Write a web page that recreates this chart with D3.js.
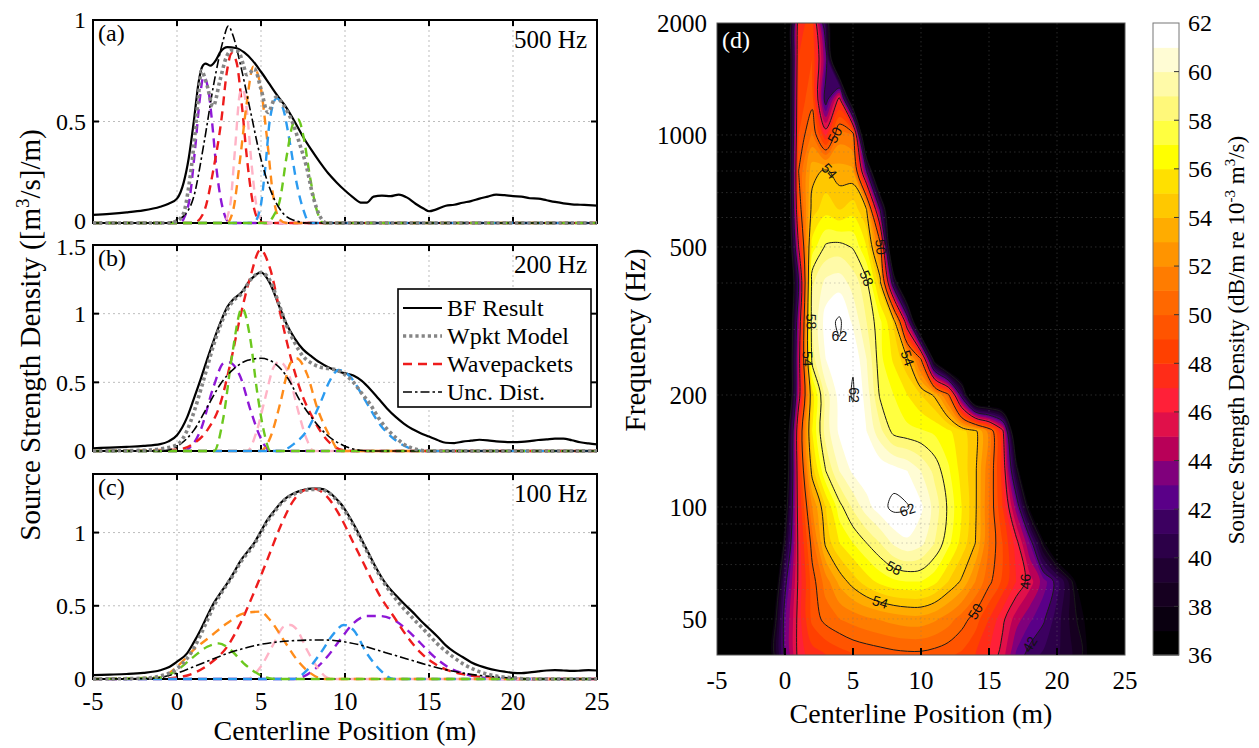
<!DOCTYPE html>
<html>
<head>
<meta charset="utf-8">
<script src="https://cdn.jsdelivr.net/npm/d3@7"></script>
<style>
  body { margin: 0; background: #fff; }
  svg { display: block; }
  text { font-family: "Liberation Serif", "Times New Roman", serif; fill: #000; }
</style>
</head>
<body>
<div id="chart"></div>
<script>
// ---------- left panels: source strength density vs position ----------
const panelNames = ["(a)", "(b)", "(c)"];
const panelFreqs = ["500 Hz", "200 Hz", "100 Hz"];
const panelYMax = [1, 1.5, 1.4];
const panelYTicks = [[0, 0.5, 1], [0, 0.5, 1, 1.5], [0, 0.5, 1]];
const posTicks = [-5, 0, 5, 10, 15, 20, 25];
const legendLabels = ["BF Result", "Wpkt Model", "Wavepackets", "Unc. Dist."];
const packetColors = ["#8e17d6", "#ee1c1c", "#ffb3c6", "#ff8c1a", "#2b9bf0", "#6cc81e"];

// BF result, panel (a) 500 Hz
const bfA = [[-5,0.04],[-4,0.045],[-3,0.052],[-2,0.062],[-1,0.08],[-0.5,0.095],[0,0.12],[0.4,0.2],[0.7,0.32],[1.0,0.5],[1.3,0.7],[1.5,0.77],[1.7,0.785],[2.0,0.775],[2.3,0.8],[2.6,0.845],[3.0,0.866],[3.5,0.862],[4.0,0.84],[4.5,0.8],[5.0,0.745],[5.5,0.685],[6.0,0.625],[6.5,0.57],[7.0,0.5],[7.5,0.425],[8.0,0.36],[8.5,0.3],[9.0,0.245],[9.5,0.2],[10.0,0.16],[10.5,0.125],[11.0,0.1],[11.3,0.1],[11.7,0.13],[12.2,0.135],[12.7,0.132],[13.2,0.14],[13.7,0.125],[14.2,0.095],[14.7,0.07],[15.0,0.058],[15.4,0.066],[16.0,0.085],[16.5,0.09],[17.0,0.1],[17.5,0.108],[18.0,0.12],[18.5,0.13],[19.0,0.14],[19.5,0.137],[20.0,0.132],[20.5,0.13],[21.0,0.122],[21.5,0.12],[22.0,0.112],[22.5,0.104],[23.0,0.097],[23.5,0.092],[24.0,0.09],[24.5,0.088],[25.0,0.086]];
const modelA = [[-5,0],[-0.5,0],[0.0,0.01],[0.4,0.05],[0.7,0.18],[1.0,0.38],[1.25,0.6],[1.45,0.75],[1.75,0.69],[2.15,0.575],[2.55,0.7],[2.95,0.82],[3.25,0.85],[3.65,0.845],[3.95,0.78],[4.15,0.73],[4.35,0.74],[4.6,0.76],[5.0,0.66],[5.4,0.545],[5.9,0.62],[6.3,0.585],[6.9,0.49],[7.3,0.39],[7.7,0.28],[8.1,0.13],[8.5,0.035],[8.9,0],[25,0]];
const uncA = [[-5,0],[-0.6,0],[0,0.015],[0.4,0.035],[1.0,0.13],[1.6,0.39],[2.2,0.69],[2.75,0.9],[3.05,0.97],[3.35,0.92],[3.75,0.79],[4.35,0.56],[4.95,0.33],[5.55,0.165],[6.15,0.065],[6.9,0.015],[7.9,0],[25,0]];
const packetsA = [
  [[-5,0],[0.2,0],[0.45,0.03],[0.77,0.13],[1.07,0.36],[1.37,0.62],[1.57,0.72],[1.86,0.66],[2.06,0.52],[2.36,0.26],[2.76,0.06],[3.15,0],[25,0]],
  [[-5,0],[1.0,0],[1.57,0.048],[2.16,0.26],[2.66,0.52],[2.96,0.74],[3.26,0.836],[3.55,0.79],[3.85,0.59],[4.15,0.33],[4.45,0.13],[4.84,0.016],[5.2,0],[25,0]],
  [[-5,0],[2.76,0],[3.15,0.08],[3.45,0.36],[3.75,0.64],[3.9,0.66],[4.15,0.56],[4.45,0.28],[4.74,0.08],[5.14,0],[25,0]],
  [[-5,0],[2.96,0],[3.35,0.066],[3.75,0.31],[4.15,0.59],[4.54,0.77],[4.94,0.69],[5.34,0.43],[5.73,0.13],[6.13,0.016],[6.5,0],[25,0]],
  [[-5,0],[4.54,0],[4.94,0.066],[5.24,0.26],[5.53,0.51],[5.93,0.614],[6.33,0.56],[6.73,0.39],[7.12,0.197],[7.52,0.066],[7.91,0],[25,0]],
  [[-5,0],[5.34,0],[5.73,0.033],[6.13,0.115],[6.53,0.33],[6.92,0.49],[7.22,0.51],[7.52,0.43],[7.91,0.23],[8.31,0.066],[8.71,0],[25,0]]
];

// panel (b) 200 Hz
const bfB = [[-5,0.02],[-4,0.025],[-3,0.03],[-2,0.037],[-1,0.05],[-0.5,0.07],[0,0.115],[0.6,0.245],[1.0,0.38],[1.4,0.52],[1.8,0.67],[2.2,0.81],[2.6,0.94],[3.0,1.05],[3.4,1.11],[3.8,1.15],[4.4,1.25],[5.0,1.3],[5.5,1.23],[6.1,1.05],[6.5,0.93],[7.0,0.82],[7.5,0.74],[8.0,0.69],[8.5,0.645],[9.0,0.61],[9.5,0.585],[10.0,0.565],[10.5,0.55],[11.0,0.51],[11.5,0.45],[12.0,0.38],[12.5,0.31],[13.0,0.25],[13.5,0.2],[14.0,0.16],[14.5,0.13],[15.0,0.105],[15.5,0.08],[16.0,0.06],[16.5,0.058],[17.0,0.068],[17.5,0.075],[18.0,0.082],[18.5,0.078],[19.0,0.07],[19.5,0.066],[20.0,0.064],[20.5,0.066],[21.0,0.072],[21.5,0.08],[22.0,0.085],[22.5,0.09],[23.0,0.09],[23.5,0.078],[24.0,0.064],[24.5,0.055],[25.0,0.048]];
const modelB = [[-5,0],[-2,0.005],[-1,0.015],[0,0.045],[0.6,0.15],[1.0,0.28],[1.4,0.44],[1.8,0.61],[2.2,0.78],[2.6,0.92],[3.0,1.03],[3.4,1.1],[3.8,1.14],[4.4,1.25],[5.0,1.3],[5.5,1.25],[6.1,1.06],[6.5,0.92],[7.0,0.79],[7.5,0.69],[8.0,0.64],[8.5,0.612],[9.0,0.6],[9.5,0.59],[10.0,0.555],[10.5,0.5],[11.0,0.42],[11.5,0.34],[12.0,0.24],[12.5,0.16],[13.0,0.1],[13.5,0.05],[14.0,0.02],[14.5,0.005],[15,0],[25,0]];
const uncB = [[-5,0],[-1,0],[-0.6,0.005],[0.2,0.05],[1.0,0.15],[1.8,0.32],[2.6,0.49],[3.4,0.6],[4.2,0.66],[5.0,0.675],[5.8,0.64],[6.6,0.53],[7.3,0.37],[8.1,0.23],[8.9,0.12],[9.9,0.04],[10.9,0.005],[11.5,0],[25,0]];
const packetsB = [
  [[-5,0],[0.3,0],[0.6,0.01],[1.4,0.15],[2.18,0.47],[2.78,0.64],[3.1,0.645],[3.77,0.54],[4.37,0.3],[4.96,0.1],[5.56,0],[25,0]],
  [[-5,0],[0,0.01],[1.0,0.055],[1.79,0.15],[2.58,0.345],[3.18,0.64],[3.77,0.98],[4.37,1.27],[4.96,1.465],[5.56,1.32],[6.15,1.0],[6.75,0.69],[7.34,0.445],[8.13,0.23],[8.93,0.08],[9.9,0.005],[10.5,0],[25,0]],
  [[-5,0],[4.17,0],[4.76,0.15],[5.26,0.39],[5.75,0.61],[6.1,0.65],[6.65,0.56],[7.15,0.32],[7.74,0.08],[8.13,0],[25,0]],
  [[-5,0],[4.96,0],[5.56,0.1],[6.15,0.35],[6.75,0.64],[7.1,0.675],[7.74,0.56],[8.33,0.32],[9.13,0.1],[9.7,0],[25,0]],
  [[-5,0],[6.15,0],[6.94,0.05],[7.74,0.15],[8.53,0.35],[9.13,0.52],[9.62,0.59],[10.32,0.54],[11.1,0.39],[12.1,0.19],[13.1,0.07],[14.1,0.01],[14.6,0],[25,0]],
  [[-5,0],[2.2,0],[2.77,0.25],[3.27,0.69],[3.87,1.04],[4.37,0.81],[4.76,0.44],[5.16,0.15],[5.56,0],[25,0]]
];

// panel (c) 100 Hz
const bfC = [[-5,0.027],[-4,0.03],[-3,0.034],[-2,0.042],[-1,0.06],[-0.5,0.08],[0,0.118],[0.6,0.175],[1.0,0.25],[1.4,0.335],[1.8,0.43],[2.2,0.52],[2.6,0.59],[3.0,0.655],[3.4,0.73],[3.8,0.81],[4.2,0.87],[4.6,0.93],[5.0,1.01],[5.4,1.09],[5.8,1.15],[6.2,1.205],[6.6,1.245],[7.0,1.27],[7.5,1.29],[8.0,1.3],[8.5,1.3],[9.0,1.28],[9.4,1.24],[9.8,1.19],[10.2,1.12],[10.6,1.04],[11.0,0.95],[11.4,0.86],[11.8,0.77],[12.2,0.69],[12.6,0.625],[13.0,0.575],[13.5,0.515],[14.0,0.46],[14.5,0.4],[15.0,0.345],[15.5,0.29],[16.0,0.23],[16.5,0.185],[17.0,0.15],[17.5,0.115],[18.0,0.09],[18.5,0.073],[19.0,0.06],[19.5,0.05],[20.0,0.042],[20.5,0.04],[21.0,0.045],[21.5,0.052],[22.0,0.058],[22.5,0.06],[23.0,0.058],[23.5,0.055],[24.0,0.057],[24.5,0.06],[25.0,0.058]];
const modelC = [[-5,0],[-2,0.005],[-1,0.02],[0,0.07],[0.6,0.14],[1.0,0.21],[1.4,0.3],[1.8,0.4],[2.2,0.5],[2.6,0.58],[3.0,0.65],[3.4,0.72],[3.8,0.8],[4.2,0.86],[4.6,0.92],[5.0,1.0],[5.4,1.08],[5.8,1.14],[6.2,1.2],[6.6,1.24],[7.0,1.265],[7.5,1.285],[8.0,1.295],[8.5,1.295],[9.0,1.275],[9.4,1.235],[9.8,1.18],[10.2,1.11],[10.6,1.03],[11.0,0.94],[11.4,0.85],[11.8,0.76],[12.2,0.68],[12.6,0.61],[13.0,0.55],[13.5,0.48],[14.0,0.42],[14.5,0.36],[15.0,0.3],[15.5,0.24],[16.0,0.19],[16.5,0.145],[17.0,0.105],[17.5,0.075],[18.0,0.05],[18.5,0.033],[19.0,0.02],[20.0,0.008],[21,0],[25,0]];
const uncC = [[-5,0],[-2,0.003],[-1,0.01],[0,0.04],[1.0,0.084],[2.0,0.13],[3.0,0.175],[4.0,0.21],[5.0,0.237],[6.0,0.253],[7.0,0.262],[8.0,0.266],[8.9,0.266],[9.9,0.255],[10.9,0.232],[11.9,0.198],[12.9,0.164],[13.9,0.13],[14.9,0.096],[15.9,0.066],[16.9,0.043],[18.1,0.023],[19.5,0.01],[21,0],[25,0]];
const packetsC = [
  [[-5,0],[6.94,0],[8.13,0.06],[8.93,0.15],[9.72,0.27],[10.5,0.38],[11.3,0.43],[12.1,0.43],[12.9,0.404],[13.7,0.335],[14.5,0.244],[15.3,0.153],[16.1,0.084],[16.9,0.043],[17.9,0.015],[18.9,0],[25,0]],
  [[-5,0],[-1,0.002],[0,0.01],[1.0,0.04],[1.98,0.107],[2.98,0.22],[3.77,0.38],[4.56,0.585],[5.36,0.81],[6.15,1.04],[6.94,1.22],[7.6,1.29],[8.13,1.3],[8.93,1.245],[9.72,1.11],[10.5,0.93],[11.3,0.745],[12.1,0.563],[12.9,0.427],[13.7,0.29],[14.5,0.18],[15.3,0.107],[16.1,0.06],[17.3,0.027],[18.9,0.005],[20,0],[25,0]],
  [[-5,0],[4.17,0],[4.96,0.08],[5.75,0.24],[6.35,0.357],[6.75,0.369],[7.15,0.335],[7.74,0.198],[8.33,0.084],[8.93,0.01],[9.3,0],[25,0]],
  [[-5,0],[-1,0.01],[0,0.084],[1.0,0.2],[1.98,0.29],[2.98,0.38],[3.97,0.448],[4.96,0.46],[5.56,0.4],[6.35,0.266],[7.15,0.13],[7.94,0.04],[8.73,0],[25,0]],
  [[-5,0],[6.94,0],[7.74,0.06],[8.53,0.175],[9.33,0.31],[9.92,0.369],[10.5,0.335],[11.3,0.175],[12.1,0.06],[12.9,0],[25,0]],
  [[-5,0],[-1,0.01],[0,0.06],[1,0.153],[1.8,0.22],[2.48,0.243],[3.18,0.2],[3.97,0.107],[4.96,0.027],[5.96,0],[25,0]]
];

// ---------- right panel: level map (dB) on position x frequency grid ----------
const mapX = [-5,-4,-3,-2,-1,0,1,2,3,4,5,6,7,8,9,10,11,12,13,14,15,16,17,18,19,20,21,22,23,24,25];
const mapFreqs = [40,50,63,80,100,125,160,200,250,315,400,500,630,800,1000,1250,1600,2000];
const mapLevels = [
  [30,30,30,30,36.8,42.5,46.5,47.5,48,48.5,49,49.2,49.4,49.6,49.7,49.7,49.5,49.2,48.8,48,47,45.5,42.8,41.5,40.8,40.2,39.2,37.8,34,30,30],
  [30,30,30,30,35.5,42.8,46.5,49.3,50.4,51,51.4,51.8,52.1,52.4,52.6,52.6,52.2,51.5,50.5,49.5,48,46.3,44.5,43.2,42.2,40.5,38.8,37,33,30,30],
  [30,30,30,30,33,41.5,46.3,49.5,51.5,53.3,54.5,55.5,56.3,56.8,57,57,56.3,55,53.8,52,50.3,48.8,47,45.5,43.5,41.5,38.5,34,30,30,30],
  [30,30,30,30,30,38.5,46.5,50.5,54.3,56,57,58,59,60.2,60.8,60.3,59,57.3,55.6,54,51,49,46.5,43,37.5,33,30,30,30,30,30],
  [30,30,30,30,30,36.2,47,52,55,57.6,59.2,60.6,61.6,62.3,62.1,61.2,59.6,57.8,56,54.2,51,48,43.5,36.5,31,30,30,30,30,30,30],
  [30,30,30,30,30,34.5,47.5,54.5,58,60,61.2,61.7,61.8,61.5,61,60,58.7,57.2,55.6,54.2,51.2,47.5,39,30,30,30,30,30,30,30,30],
  [30,30,30,30,30,33.5,48,56,59.5,61.2,61.6,61,59.3,57.6,57.3,57.1,56.8,56.2,55.3,54.3,51.5,46.5,33,30,30,30,30,30,30,30,30],
  [30,30,30,30,30,30,45,55.5,59.5,61.4,62.1,60.6,57.8,57,56,55,53.8,50.5,41,31,30,30,30,30,30,30,30,30,30,30,30],
  [30,30,30,30,30,30,45,58.5,61,61.7,61.9,60,57.3,55.8,54.2,50,36,30,30,30,30,30,30,30,30,30,30,30,30,30,30],
  [30,30,30,30,30,30,44,59,61.5,62.2,60.8,59,57.2,54.8,44,30,30,30,30,30,30,30,30,30,30,30,30,30,30,30,30],
  [30,30,30,30,30,30,42,58.8,60.3,60.6,59.6,58.3,54.5,40,30,30,30,30,30,30,30,30,30,30,30,30,30,30,30,30,30],
  [30,30,30,30,30,30,46,56.5,58.2,58.4,57.9,56,51,30,30,30,30,30,30,30,30,30,30,30,30,30,30,30,30,30,30],
  [30,30,30,30,30,30,49,54.5,55.6,55,55.6,54,42,30,30,30,30,30,30,30,30,30,30,30,30,30,30,30,30,30,30],
  [30,30,30,30,30,30,50,53.6,54.2,53.4,53.2,42,30,30,30,30,30,30,30,30,30,30,30,30,30,30,30,30,30,30,30],
  [30,30,30,30,30,30,49,51.2,47,51.5,51,30,30,30,30,30,30,30,30,30,30,30,30,30,30,30,30,30,30,30,30],
  [30,30,30,30,30,30,48.5,49.5,41,46.5,33,30,30,30,30,30,30,30,30,30,30,30,30,30,30,30,30,30,30,30,30],
  [30,30,30,30,30,30,48,49,43,30,30,30,30,30,30,30,30,30,30,30,30,30,30,30,30,30,30,30,30,30,30],
  [30,30,30,30,30,30,47.5,48.5,40,30,30,30,30,30,30,30,30,30,30,30,30,30,30,30,30,30,30,30,30,30,30]
];
const freqTicks = [50, 100, 200, 500, 1000, 2000];
const freqGrid = [50,60,70,80,90,100,200,300,400,500,600,700,800,900,1000];
const barTicks = [36,38,40,42,44,46,48,50,52,54,56,58,60,62];
// one colour per 1 dB band, 36 .. 61
const bandLevels = [36,37,38,39,40,41,42,43,44,45,46,47,48,49,50,51,52,53,54,55,56,57,58,59,60,61,62];
const bandColors = ["#000000","#0a0010","#160020","#200032","#2c0048","#3c0060","#5a0088","#80007c","#b80058","#e0104a",
  "#ff2038","#ff2c18","#ff4000","#ff5400","#ff6800","#ff7c00","#ff9400","#ffac00","#ffc800","#ffe000",
  "#ffff00","#ffff40","#fff87a","#fffaa8","#fffcd4","#ffffff","#ffffff"];
const lineLevels = [38, 42, 46, 50, 54, 58, 62];
const contourLabels = [
  [62, 3.9, 290], [62, 5.0, 210], [62, 8.6, 100], [58, 7.9, 68], [58, 1.8, 330], [58, 6.8, 430],
  [54, 7.3, 55], [54, 1.5, 230], [54, 8.6, 280], [54, 3.0, 760], [50, 14.6, 56], [50, 7.5, 450],
  [50, 3.5, 1000], [46, 17.5, 60], [42, 18.5, 43], [50, 1.0, 1500]
];

// ---------- drawing ----------
const W = 1259, H = 748;
const svg = d3.select("#chart").append("svg").attr("width", W).attr("height", H);

const x = d3.scaleLinear().domain([-5, 25]).range([93, 597]);
const panelTop = [20, 245, 474], panelBottom = [223, 451, 679];
const series = [
  { bf: bfA, model: modelA, unc: uncA, packets: packetsA },
  { bf: bfB, model: modelB, unc: uncB, packets: packetsB },
  { bf: bfC, model: modelC, unc: uncC, packets: packetsC }
];

series.forEach(function(s, i) {
  const y = d3.scaleLinear().domain([0, panelYMax[i]]).range([panelBottom[i], panelTop[i]]);
  const g = svg.append("g");
  const line = d3.line().x(d => x(d[0])).y(d => y(d[1])).curve(d3.curveMonotoneX);

  // dotted grid
  g.selectAll(".gx").data(posTicks.slice(1, -1)).enter().append("line")
    .attr("x1", d => x(d)).attr("x2", d => x(d)).attr("y1", panelTop[i]).attr("y2", panelBottom[i])
    .attr("stroke", "#bdbdbd").attr("stroke-width", 1).attr("stroke-dasharray", "2,3");
  g.selectAll(".gy").data(panelYTicks[i].filter(t => t > 0 && t < panelYMax[i])).enter().append("line")
    .attr("x1", x(-5)).attr("x2", x(25)).attr("y1", d => y(d)).attr("y2", d => y(d))
    .attr("stroke", "#bdbdbd").attr("stroke-width", 1).attr("stroke-dasharray", "2,3");

  // frame and inward ticks
  g.append("rect").attr("x", x(-5)).attr("y", panelTop[i]).attr("width", x(25) - x(-5))
    .attr("height", panelBottom[i] - panelTop[i]).attr("fill", "none").attr("stroke", "#000").attr("stroke-width", 2);
  posTicks.slice(1, -1).forEach(function(t) {
    g.append("line").attr("x1", x(t)).attr("x2", x(t)).attr("y1", panelBottom[i]).attr("y2", panelBottom[i] - 6).attr("stroke", "#000").attr("stroke-width", 2);
    g.append("line").attr("x1", x(t)).attr("x2", x(t)).attr("y1", panelTop[i]).attr("y2", panelTop[i] + 6).attr("stroke", "#000").attr("stroke-width", 2);
  });
  panelYTicks[i].filter(t => t > 0 && t < panelYMax[i]).forEach(function(t) {
    g.append("line").attr("x1", x(-5)).attr("x2", x(-5) + 6).attr("y1", y(t)).attr("y2", y(t)).attr("stroke", "#000").attr("stroke-width", 2);
    g.append("line").attr("x1", x(25)).attr("x2", x(25) - 6).attr("y1", y(t)).attr("y2", y(t)).attr("stroke", "#000").attr("stroke-width", 2);
  });

  // y tick labels
  g.selectAll(".yl").data(panelYTicks[i]).enter().append("text")
    .attr("x", 86).attr("y", d => y(d) + (i === 0 && d === 0 ? -2 : 0) + (i === 1 && d === 1.5 ? 2 : 0))
    .attr("dy", "0.35em").attr("text-anchor", "end")
    .style("font-size", "24px").text(d => String(d));

  // curves
  g.append("path").attr("d", line(s.bf)).attr("fill", "none").attr("stroke", "#000").attr("stroke-width", 2.2);
  s.packets.forEach(function(p, k) {
    g.append("path").attr("d", line(p)).attr("fill", "none").attr("stroke", packetColors[k])
      .attr("stroke-width", 2.4).attr("stroke-dasharray", "9,6");
  });
  g.append("path").attr("d", line(s.unc)).attr("fill", "none").attr("stroke", "#000")
    .attr("stroke-width", 1.6).attr("stroke-dasharray", "9,3,2.5,3");
  g.append("path").attr("d", line(s.model)).attr("fill", "none").attr("stroke", "#858585")
    .attr("stroke-width", 3.6).attr("stroke-dasharray", "3.2,3");

  // panel labels
  g.append("text").attr("x", 98).attr("y", panelTop[i] + 21).style("font-size", "24px").text(panelNames[i]);
  g.append("text").attr("x", 587).attr("y", panelTop[i] + 28).attr("text-anchor", "end").style("font-size", "25px").text(panelFreqs[i]);
});

// x tick labels under (c)
svg.selectAll(".xl").data(posTicks).enter().append("text")
  .attr("x", d => x(d)).attr("y", 710).attr("text-anchor", "middle").style("font-size", "25px").text(d => String(d));
svg.append("text").attr("x", (x(-5) + x(25)) / 2).attr("y", 740).attr("text-anchor", "middle")
  .style("font-size", "28px").text("Centerline Position (m)");
const yTitle = svg.append("text").attr("transform", "translate(40,335) rotate(-90)").attr("text-anchor", "middle").style("font-size", "29px");
yTitle.append("tspan").text("Source Strength Density ([m");
yTitle.append("tspan").attr("dy", -11).style("font-size", "19px").text("3");
yTitle.append("tspan").attr("dy", 11).text("/s]/m)");

// legend in (b)
const leg = svg.append("g");
leg.append("rect").attr("x", 398).attr("y", 289).attr("width", 193).attr("height", 118)
  .attr("fill", "#fff").attr("stroke", "#000").attr("stroke-width", 1.6);
const legStyles = [
  { stroke: "#000", width: 2.2, dash: null },
  { stroke: "#858585", width: 3.6, dash: "3.2,3" },
  { stroke: packetColors[1], width: 2.4, dash: "9,6" },
  { stroke: "#000", width: 1.6, dash: "9,3,2.5,3" }
];
legendLabels.forEach(function(lbl, k) {
  const yy = 308 + k * 28;
  leg.append("line").attr("x1", 403).attr("x2", 442).attr("y1", yy).attr("y2", yy)
    .attr("stroke", legStyles[k].stroke).attr("stroke-width", legStyles[k].width)
    .attr("stroke-dasharray", legStyles[k].dash);
  leg.append("text").attr("x", 447).attr("y", yy).attr("dy", "0.35em").style("font-size", "24px").text(lbl);
});

// ---------- panel (d) ----------
const dX = d3.scaleLinear().domain([-5, 25]).range([717, 1125]);
const dY = d3.scaleLog().domain([40, 2000]).range([655, 23]);
const nx = mapX.length, ny = mapFreqs.length;
const colToX = d3.scaleLinear().domain(d3.range(nx)).range(mapX);
const rowToLogF = d3.scaleLinear().domain(d3.range(ny)).range(mapFreqs.map(Math.log10));
function toPx(p) {
  return [dX(colToX(p[0] - 0.5)), dY(Math.pow(10, rowToLogF(p[1] - 0.5)))];
}
const ringLine = d3.line().curve(d3.curveCatmullRomClosed.alpha(0.5));
function multiPath(coords) {
  let s = "";
  coords.forEach(poly => poly.forEach(ring => {
    const pts = ring.slice(0, -1).map(toPx);
    if (pts.length > 2) s += ringLine(pts);
  }));
  return s;
}

const defs = svg.append("defs");
defs.append("clipPath").attr("id", "dclip").append("rect")
  .attr("x", dX(-5)).attr("y", dY(2000)).attr("width", dX(25) - dX(-5)).attr("height", dY(40) - dY(2000));

const dg = svg.append("g").attr("clip-path", "url(#dclip)");
dg.append("rect").attr("x", dX(-5)).attr("y", dY(2000)).attr("width", dX(25) - dX(-5))
  .attr("height", dY(40) - dY(2000)).attr("fill", "#000");

const values = mapLevels.flat();
const bands = d3.contours().size([nx, ny]).thresholds(bandLevels.slice(1))(values);
bands.forEach(function(c) {
  dg.append("path").attr("d", multiPath(c.coordinates))
    .attr("fill", bandColors[bandLevels.indexOf(c.value)]).attr("fill-rule", "evenodd");
});

// dotted grid
freqGrid.forEach(function(f) {
  dg.append("line").attr("x1", dX(-5)).attr("x2", dX(25)).attr("y1", dY(f)).attr("y2", dY(f))
    .attr("stroke", "#777").attr("stroke-opacity", 0.35).attr("stroke-width", 1).attr("stroke-dasharray", "1.5,3");
});
posTicks.slice(1, -1).forEach(function(t) {
  dg.append("line").attr("x1", dX(t)).attr("x2", dX(t)).attr("y1", dY(2000)).attr("y2", dY(40))
    .attr("stroke", "#777").attr("stroke-opacity", 0.35).attr("stroke-width", 1).attr("stroke-dasharray", "1.5,3");
});

// contour lines
const lineSets = bands.filter(c => lineLevels.indexOf(c.value) >= 0);
const linePx = {};
lineSets.forEach(function(c) {
  dg.append("path").attr("d", multiPath(c.coordinates)).attr("fill", "none")
    .attr("stroke", "#1a1a1a").attr("stroke-width", 1);
  const pts = [];
  c.coordinates.forEach(poly => poly.forEach(ring => {
    const pp = ring.slice(0, -1).map(toPx);
    pp.forEach((p, k) => pts.push({ p: p, prev: pp[(k - 1 + pp.length) % pp.length], next: pp[(k + 1) % pp.length] }));
  }));
  linePx[c.value] = pts;
});

// contour labels snapped to their line
contourLabels.forEach(function(lb) {
  const pts = linePx[lb[0]];
  if (!pts || !pts.length) return;
  const tx = dX(lb[1]), ty = dY(lb[2]);
  let best = null, bd = Infinity;
  pts.forEach(function(q) {
    const inside = q.p[0] > dX(-5) + 4 && q.p[0] < dX(25) - 4 && q.p[1] > dY(2000) + 4 && q.p[1] < dY(40) - 4;
    const d = Math.hypot(q.p[0] - tx, q.p[1] - ty);
    if (inside && d < bd) { bd = d; best = q; }
  });
  if (!best || bd > 30) return;
  let ang = Math.atan2(best.next[1] - best.prev[1], best.next[0] - best.prev[0]) * 180 / Math.PI;
  if (ang > 90) ang -= 180;
  if (ang < -90) ang += 180;
  dg.append("text").attr("transform", "translate(" + best.p[0] + "," + best.p[1] + ") rotate(" + ang + ")")
    .attr("text-anchor", "middle").attr("dy", "0.35em")
    .style("font-family", "'Liberation Sans', Arial, sans-serif").style("font-size", "14px").style("fill", "#111")
    .text(lb[0]);
});

// frame and ticks for (d)
svg.append("rect").attr("x", dX(-5)).attr("y", dY(2000)).attr("width", dX(25) - dX(-5))
  .attr("height", dY(40) - dY(2000)).attr("fill", "none").attr("stroke", "#555").attr("stroke-width", 1);
posTicks.slice(1, -1).forEach(function(t) {
  svg.append("line").attr("x1", dX(t)).attr("x2", dX(t)).attr("y1", dY(40)).attr("y2", dY(40) - 7)
    .attr("stroke", "#000").attr("stroke-width", 2);
});
svg.selectAll(".dxl").data(posTicks).enter().append("text")
  .attr("x", d => dX(d)).attr("y", 689).attr("text-anchor", "middle").style("font-size", "25px").text(d => String(d));
svg.selectAll(".dyl").data(freqTicks).enter().append("text")
  .attr("x", 707).attr("y", d => dY(d)).attr("dy", "0.35em").attr("text-anchor", "end").style("font-size", "25px").text(d => String(d));
svg.append("text").attr("x", (dX(-5) + dX(25)) / 2).attr("y", 723).attr("text-anchor", "middle")
  .style("font-size", "28px").text("Centerline Position (m)");
svg.append("text").attr("transform", "translate(645,340) rotate(-90)").attr("text-anchor", "middle")
  .style("font-size", "29px").text("Frequency (Hz)");
svg.append("text").attr("x", 722).attr("y", 48).style("font-size", "24px").style("fill", "#fff").text("(d)");

// ---------- colorbar ----------
const cb = d3.scaleLinear().domain([36, 62]).range([655, 23]);
const cbX = 1153, cbW = 26;
bandColors.slice(0, 26).forEach(function(col, k) {
  svg.append("rect").attr("x", cbX).attr("y", cb(bandLevels[k + 1])).attr("width", cbW)
    .attr("height", cb(bandLevels[k]) - cb(bandLevels[k + 1]) + 0.5).attr("fill", col);
});
svg.append("rect").attr("x", cbX).attr("y", cb(62)).attr("width", cbW).attr("height", cb(36) - cb(62))
  .attr("fill", "none").attr("stroke", "#777").attr("stroke-width", 1);
barTicks.slice(1, -1).forEach(function(t) {
  svg.append("line").attr("x1", cbX + cbW - 5).attr("x2", cbX + cbW).attr("y1", cb(t)).attr("y2", cb(t))
    .attr("stroke", "#333").attr("stroke-width", 1);
});
svg.selectAll(".cbl").data(barTicks).enter().append("text")
  .attr("x", 1188).attr("y", d => cb(d)).attr("dy", "0.35em").style("font-size", "24px").text(d => String(d));
const cbTitle = svg.append("text").attr("transform", "translate(1244,340) rotate(-90)").attr("text-anchor", "middle").style("font-size", "23px");
cbTitle.append("tspan").text("Source Strength Density (dB/m re 10");
cbTitle.append("tspan").attr("dy", -9).style("font-size", "15px").text("-3");
cbTitle.append("tspan").attr("dy", 9).text(" m");
cbTitle.append("tspan").attr("dy", -9).style("font-size", "15px").text("3");
cbTitle.append("tspan").attr("dy", 9).text("/s)");
</script>
</body>
</html>
